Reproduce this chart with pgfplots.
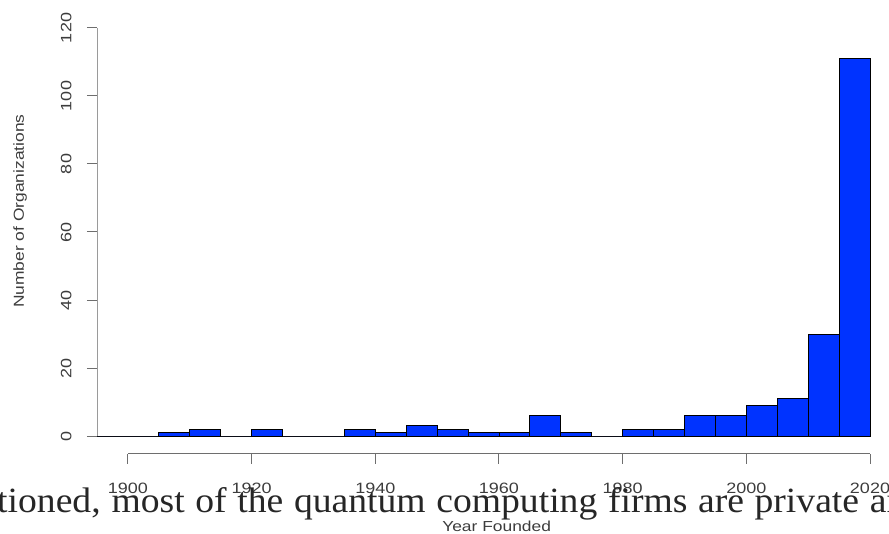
\documentclass[border=0pt]{standalone}
\usepackage{fontspec}
\setmainfont{Liberation Serif}
\newfontfamily\bodyfont[FakeStretch=1.06]{Liberation Serif}
\newfontfamily\rfont[FakeStretch=1.2]{Liberation Sans}
\usepackage{pgfplots}
\pgfplotsset{compat=1.18}
\usepackage{pgfplotstable}
\definecolor{barblue}{RGB}{0,51,255}
\definecolor{axgray}{RGB}{110,110,110}
\definecolor{txtgray}{RGB}{60,60,60}

% counts per 5-year bin, left edge of bin; last row closes the interval
\pgfplotstableread{
year count
1895 0
1900 0
1905 1
1910 2
1915 0
1920 2
1925 0
1930 0
1935 2
1940 1
1945 3
1950 2
1955 1
1960 1
1965 6
1970 1
1975 0
1980 2
1985 2
1990 6
1995 6
2000 9
2005 11
2010 30
2015 111
2020 0
}\founded

\begin{document}
\begin{tikzpicture}
\useasboundingbox (0,0) rectangle (889pt,534pt);
\clip (0,0) rectangle (889pt,534pt);
\begin{axis}[
    at={(97pt,80pt)}, anchor=south west,
    scale only axis, width=773pt, height=426pt,
    xmin=1895, xmax=2020, ymin=-5.29, ymax=120,
    axis x line=bottom, axis y line=left,
    axis line style={draw=none,-},
    xtick={1900,1920,...,2020},
    ytick={0,20,...,120},
    tick align=outside, major tick length=10pt,
    tick style={axgray, line width=1pt},
    ticklabel style={font=\rfont\fontsize{15}{18}\selectfont, text=txtgray},
    /pgf/number format/assume math mode=true,
    /pgf/number format/1000 sep={},
    xticklabel style={yshift=-15pt},
    yticklabel style={xshift=-12pt, rotate=90, anchor=south},
    xlabel={Year Founded},
    ylabel={Number of Organizations},
    label style={font=\rfont\fontsize{14.5}{18}\selectfont, text=txtgray},
    xlabel style={at={(axis description cs:0.517,-0.183)}, anchor=base},
    ylabel style={at={(axis description cs:-0.0996,0.570)}, anchor=center, rotate=0},
    clip=false,
]
\draw[black!85, line width=1pt] (axis cs:1895,0) -- (axis cs:2020,0);
\addplot[ybar interval, fill=barblue, draw=black, line width=0.9pt]
    table[x=year, y=count] {\founded};
\draw[axgray, line width=1pt] (axis cs:1900,-5.29) -- (axis cs:2020,-5.29);
\draw[axgray!70, line width=1pt] (axis cs:1895,0) -- (axis cs:1895,120);
\end{axis}
\node[anchor=base west, inner sep=0pt, font=\bodyfont\fontsize{35.5}{40}\selectfont, text=black!85]
    at (-3pt,21pt) {\makebox[908pt][s]{tioned, most of the quantum computing firms are private an}};
\end{tikzpicture}
\end{document}
